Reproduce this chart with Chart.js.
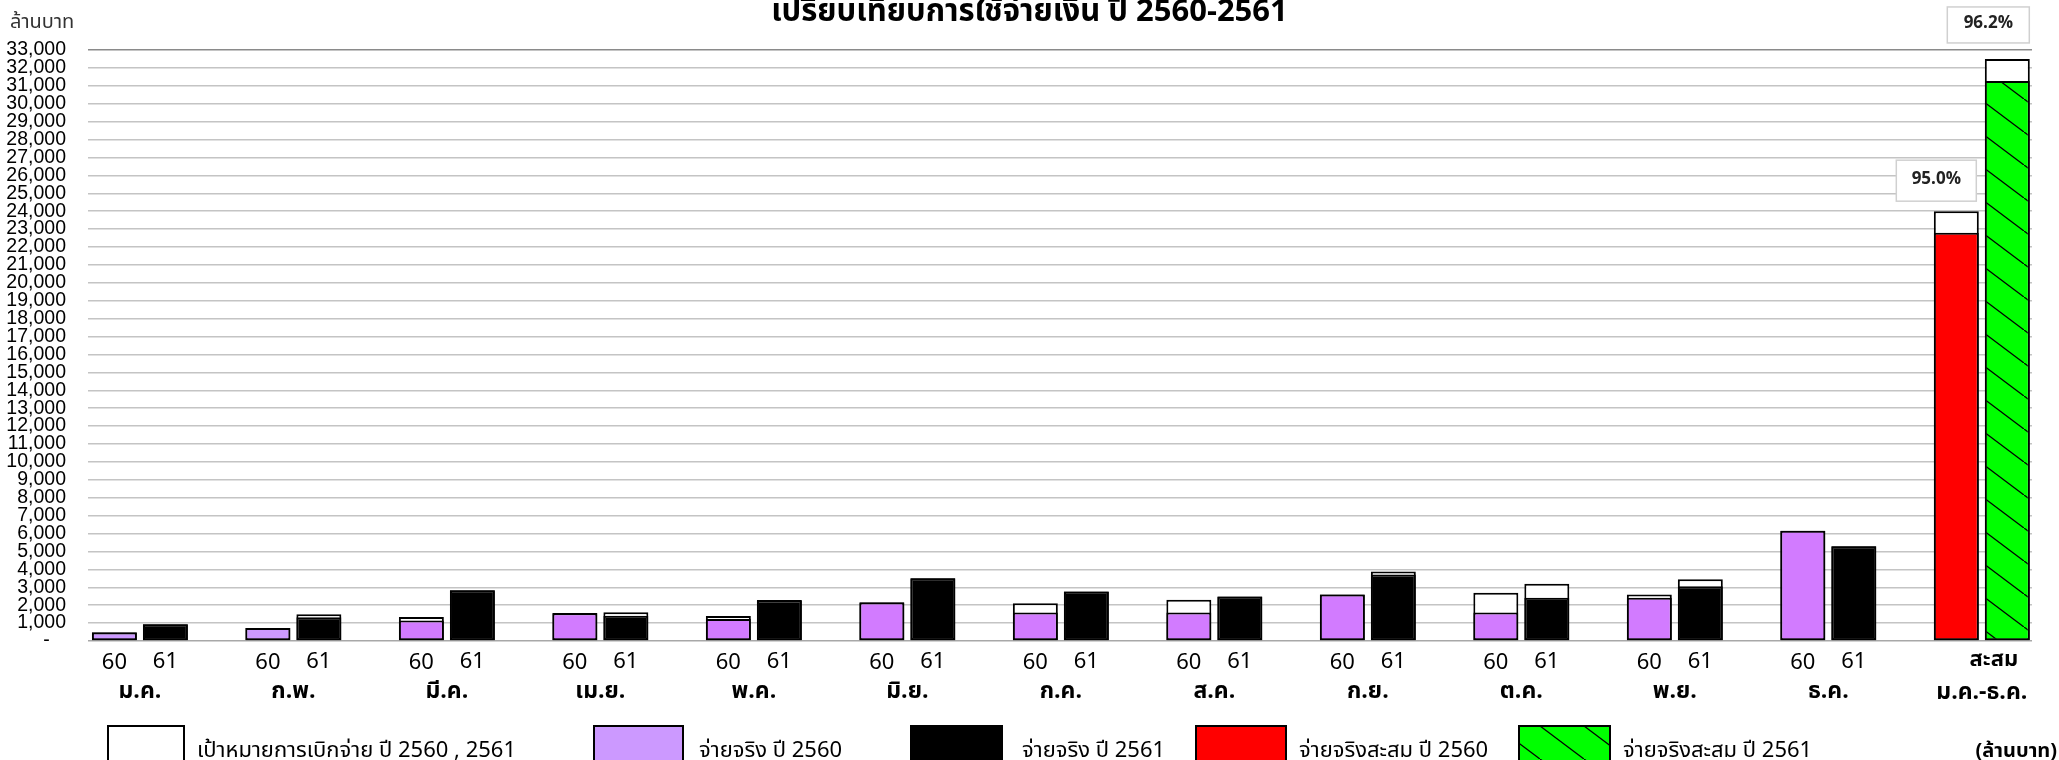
<!DOCTYPE html>
<html lang="th">
<head>
<meta charset="utf-8">
<title>เปรียบเทียบการใช้จ่ายเงิน ปี 2560-2561</title>
<script src="https://cdn.jsdelivr.net/npm/chart.js@4.4.1/dist/chart.umd.min.js"></script>
<style>
  html, body { margin: 0; padding: 0; background: #fff; }
  canvas { display: block; }
</style>
</head>
<body>
<canvas id="spendChart" width="2059" height="760"></canvas>
<script>
const chartTitle = 'เปรียบเทียบการใช้จ่ายเงิน ปี 2560-2561';
const months = ['ม.ค.', 'ก.พ.', 'มี.ค.', 'เม.ย.', 'พ.ค.', 'มิ.ย.', 'ก.ค.', 'ส.ค.', 'ก.ย.', 'ต.ค.', 'พ.ย.', 'ธ.ค.'];
const cumLabel = ['สะสม', 'ม.ค.-ธ.ค.'];
const yearLabels = ['60', '61'];

// ล้านบาท per month
const target2560 = [490, 730, 1340, 1560, 1400, 2170, 2110, 2310, 2600, 2700, 2590, 6150];
const actual2560 = [480, 725, 1140, 1550, 1230, 2150, 1585, 1585, 2590, 1585, 2420, 6150];
const target2561 = [930, 1490, 2830, 1600, 2290, 3500, 2760, 2480, 3880, 3200, 3450, 5290];
const actual2561 = [930, 1320, 2830, 1410, 2260, 3500, 2760, 2480, 3710, 2420, 3060, 5290];

// cumulative Jan-Dec: [2560, 2561]
const cumTarget = [24000, 32500];
const cumActual = [22800, 31265];

const yMax = 33000;
const yStep = 1000;

const legendLabels = [
    'เป้าหมายการเบิกจ่าย ปี 2560 , 2561',
    'จ่ายจริง ปี 2560',
    'จ่ายจริง ปี 2561',
    'จ่ายจริงสะสม ปี 2560',
    'จ่ายจริงสะสม ปี 2561'
];
const unitLabel = 'ล้านบาท';

const THAI = "Tahoma, 'Noto Sans Thai', 'Noto Sans', 'DejaVu Sans', sans-serif";
const PURPLE_LIGHT = '#cc99ff';
const PURPLE = '#d27bff';

// green with black "\" lines, used for the 2561 cumulative bar
function makeHatch() {
    const c = document.createElement('canvas');
    c.width = 44;
    c.height = 33;
    const g = c.getContext('2d');
    g.fillStyle = '#00ff00';
    g.fillRect(0, 0, 44, 33);
    g.strokeStyle = '#000';
    g.lineWidth = 1.3;
    g.beginPath();
    g.moveTo(-4, -3);
    g.lineTo(48, 36);
    g.stroke();
    return g.createPattern(c, 'repeat');
}
const hatch = makeHatch();

const toPoints = arr => arr.map((v, i) => ({ x: i, y: v }));
const lastIdx = months.length;

const colors2560 = months.map((m, i) => (i < 2 ? PURPLE_LIGHT : PURPLE)).concat('#ff0000');
const colors2561 = months.map(() => '#000000').concat(hatch);

const barStyle = {
    borderColor: '#000',
    borderWidth: 2,
    borderSkipped: false,
    categoryPercentage: 0.6645,
    barPercentage: 0.882
};

// draws title, x labels, % boxes and legend
const overlay = {
    id: 'overlay',
    afterDraw(chart) {
        const ctx = chart.ctx;
        const xs = chart.scales.x;
        const m60 = chart.getDatasetMeta(0);
        const m61 = chart.getDatasetMeta(1);
        ctx.save();
        ctx.fillStyle = '#000';

        ctx.textAlign = 'center';
        ctx.textBaseline = 'alphabetic';
        ctx.font = 'bold 31px ' + THAI;
        ctx.fillText(chartTitle, chart.width / 2, 21);

        ctx.textAlign = 'left';
        ctx.font = '20px ' + THAI;
        ctx.fillStyle = '#333';
        ctx.fillText(unitLabel, 10, 28);
        ctx.fillStyle = '#000';

        ctx.textAlign = 'center';
        ctx.textBaseline = 'middle';
        months.forEach((m, i) => {
            ctx.font = '22px ' + THAI;
            ctx.fillText(yearLabels[0], m60.data[i].x, 665);
            ctx.fillText(yearLabels[1], m61.data[i].x, 664);
            ctx.font = 'bold 23px ' + THAI;
            ctx.fillText(m, xs.getPixelForValue(i), 693);
        });
        const cumX = xs.getPixelForValue(lastIdx);
        ctx.font = 'bold 22px ' + THAI;
        ctx.fillText(cumLabel[0], cumX + 12, 662);
        ctx.font = 'bold 23px ' + THAI;
        ctx.fillText(cumLabel[1], cumX, 694);

        // percent achieved on the cumulative bars
        const boxes = [{ dx: -20, gap: 10, w: 80, h: 41 }, { dx: -19, gap: 16, w: 82, h: 36 }];
        [0, 1].forEach(k => {
            const el = chart.getDatasetMeta(2 + k).data[lastIdx];
            const b = boxes[k];
            const cx = el.x + b.dx;
            const bottom = el.y - b.gap;
            ctx.fillStyle = '#fff';
            ctx.strokeStyle = '#d0d0d0';
            ctx.lineWidth = 1.5;
            ctx.fillRect(cx - b.w / 2, bottom - b.h, b.w, b.h);
            ctx.strokeRect(cx - b.w / 2, bottom - b.h, b.w, b.h);
            ctx.fillStyle = '#222';
            ctx.font = 'bold 17px ' + THAI;
            ctx.fillText((cumActual[k] / cumTarget[k] * 100).toFixed(1) + '%', cx, bottom - b.h / 2);
        });

        // legend
        const swatches = ['#ffffff', PURPLE_LIGHT, '#000000', '#ff0000', hatch];
        const boxX = [108, 594, 911, 1196, 1519];
        const boxW = [76, 89, 91, 90, 91];
        const textX = [197, 699, 1022, 1299, 1623];
        ctx.textAlign = 'left';
        ctx.textBaseline = 'alphabetic';
        legendLabels.forEach((label, i) => {
            ctx.fillStyle = swatches[i];
            ctx.fillRect(boxX[i], 726, boxW[i], 40);
            ctx.strokeStyle = '#000';
            ctx.lineWidth = 2;
            ctx.strokeRect(boxX[i], 726, boxW[i], 40);
            ctx.fillStyle = '#000';
            ctx.font = '22px ' + THAI;
            ctx.fillText(label, textX[i], 757);
        });
        ctx.textAlign = 'right';
        ctx.font = 'bold 20px ' + THAI;
        ctx.fillText('(' + unitLabel + ')', 2057, 757);
        ctx.restore();
    }
};

new Chart(document.getElementById('spendChart'), {
    type: 'bar',
    data: {
        datasets: [
            Object.assign({ label: legendLabels[1], stack: 'y60', data: toPoints(actual2560.concat(cumActual[0])), backgroundColor: colors2560 }, barStyle),
            Object.assign({ label: legendLabels[2], stack: 'y61', data: toPoints(actual2561.concat(cumActual[1])), backgroundColor: colors2561 }, barStyle),
            Object.assign({ label: legendLabels[0], stack: 'y60', data: toPoints(target2560.concat(cumTarget[0])), backgroundColor: '#fff' }, barStyle),
            Object.assign({ label: legendLabels[0], stack: 'y61', data: toPoints(target2561.concat(cumTarget[1])), backgroundColor: '#fff' }, barStyle)
        ]
    },
    options: {
        responsive: false,
        animation: false,
        devicePixelRatio: 1,
        layout: { padding: { top: 50, right: 27, left: 0, bottom: 0 } },
        plugins: { legend: { display: false }, tooltip: { enabled: false } },
        scales: {
            x: {
                type: 'linear',
                min: -0.338,
                max: 12.327,
                offset: false,
                grid: { display: false },
                border: { display: false },
                ticks: { display: false },
                afterBuildTicks: scale => { scale.ticks = months.concat('cum').map((m, i) => ({ value: i })); },
                afterFit: scale => { scale.height = 119; }
            },
            y: {
                min: 0,
                max: yMax,
                stacked: false,
                border: { display: false },
                grid: {
                    drawTicks: false,
                    lineWidth: 1.5,
                    color: c => (c.tick.value === yMax ? '#8a8a8a' : c.tick.value === 0 ? '#a8a8a8' : '#c4c4c4')
                },
                ticks: {
                    stepSize: yStep,
                    autoSkip: false,
                    padding: 22,
                    color: '#000',
                    font: { family: "'Liberation Sans', Arial, sans-serif", size: 19.5 },
                    callback: v => (v === 0 ? '-   ' : v.toLocaleString('en-US'))
                },
                afterFit: scale => { scale.width = 88; }
            }
        }
    },
    plugins: [overlay]
});
</script>
</body>
</html>
